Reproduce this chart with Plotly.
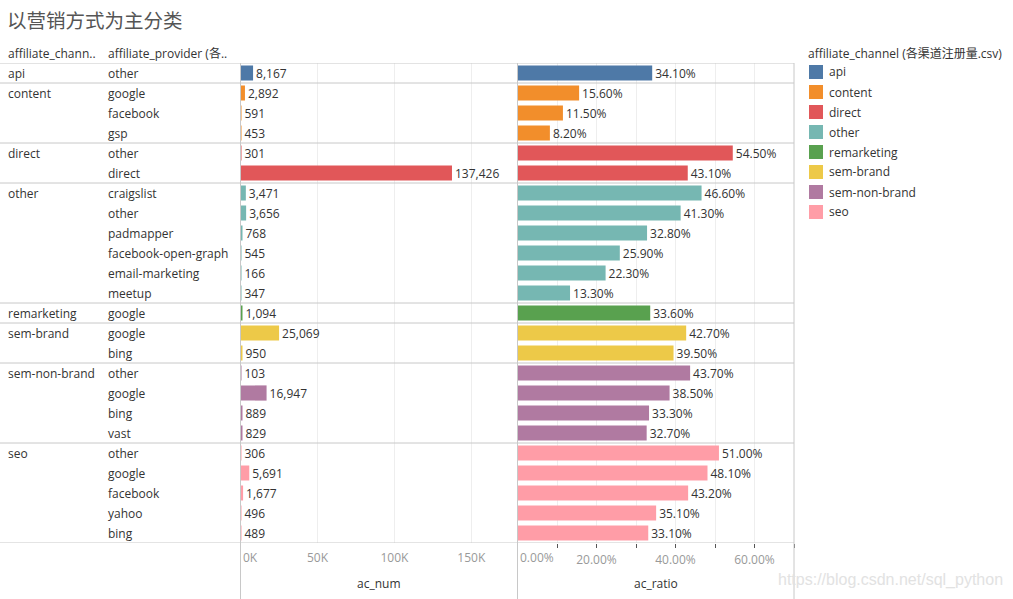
import plotly.graph_objects as go

W, H = 1013, 599

channels = ["api", "content", "direct", "other", "remarketing", "sem-brand", "sem-non-brand", "seo"]
channel_colors = ["#4E79A7", "#F28E2B", "#E15759", "#76B7B2", "#59A14F", "#EDC948", "#B07AA1", "#FF9DA7"]

row_channels = (["api"] + ["content"] * 3 + ["direct"] * 2 + ["other"] * 6 + ["remarketing"]
                + ["sem-brand"] * 2 + ["sem-non-brand"] * 4 + ["seo"] * 5)
providers = ["other",
             "google", "facebook", "gsp",
             "other", "direct",
             "craigslist", "other", "padmapper", "facebook-open-graph", "email-marketing", "meetup",
             "google",
             "google", "bing",
             "other", "google", "bing", "vast",
             "other", "google", "facebook", "yahoo", "bing"]
ac_num = [8167,
          2892, 591, 453,
          301, 137426,
          3471, 3656, 768, 545, 166, 347,
          1094,
          25069, 950,
          103, 16947, 889, 829,
          306, 5691, 1677, 496, 489]
ac_ratio = [0.341,
            0.156, 0.115, 0.082,
            0.545, 0.431,
            0.466, 0.413, 0.328, 0.259, 0.223, 0.133,
            0.336,
            0.427, 0.395,
            0.437, 0.385, 0.333, 0.327,
            0.510, 0.481, 0.432, 0.351, 0.331]

num_ticks = [0, 50000, 100000, 150000]
num_ticktext = ["", "50K", "100K", "150K"]
ratio_ticks = [0, 0.1, 0.2, 0.3, 0.4, 0.5, 0.6, 0.7]
ratio_ticktext = ["", "", "20.00%", "", "40.00%", "", "60.00%", ""]

title_text = "以营销方式为主分类"
legend_title = "affiliate_channel (各渠道注册量.csv)"

FONT = "Open Sans, Noto Sans CJK SC, sans-serif"
TXT = "#333333"
LINE = "#c8c8c8"
GRID = "#eeeeee"


def px(x):
    return x / W


def py(y):
    return 1 - y / H


color_map = dict(zip(channels, channel_colors))
colors = [color_map[c] for c in row_channels]
rows = list(range(len(providers)))
n = len(rows)

fig = go.Figure()
fig.add_trace(go.Bar(
    x=ac_num, y=rows, orientation="h", xaxis="x", yaxis="y",
    marker=dict(color=colors, line=dict(width=0)), width=0.76,
    text=[f"{v:,}" for v in ac_num], textposition="outside", cliponaxis=False,
    constraintext="none", textfont=dict(family=FONT, size=12, color=TXT),
    hoverinfo="skip", showlegend=False))
fig.add_trace(go.Bar(
    x=ac_ratio, y=rows, orientation="h", xaxis="x2", yaxis="y",
    marker=dict(color=colors, line=dict(width=0)), width=0.76,
    text=[f"{v * 100:.2f}%" for v in ac_ratio], textposition="outside", cliponaxis=False,
    constraintext="none", textfont=dict(family=FONT, size=12, color=TXT),
    hoverinfo="skip", showlegend=False))

shapes = []
annotations = []

# group separators and row labels
prev = None
for i, (ch, pr) in enumerate(zip(row_channels, providers)):
    if ch != prev:
        shapes.append(dict(type="line", xref="paper", yref="y", x0=0, x1=px(794),
                           y0=i - 0.5, y1=i - 0.5, line=dict(color=LINE, width=1)))
        annotations.append(dict(xref="paper", yref="y", x=px(6), y=i, text=ch, showarrow=False,
                                xanchor="left", yanchor="middle",
                                font=dict(family=FONT, size=12, color=TXT)))
        prev = ch
    annotations.append(dict(xref="paper", yref="y", x=px(106), y=i, text=pr, showarrow=False,
                            xanchor="left", yanchor="middle",
                            font=dict(family=FONT, size=12, color=TXT)))
shapes.append(dict(type="line", xref="paper", yref="y", x0=0, x1=px(794),
                   y0=n - 0.5, y1=n - 0.5, line=dict(color=LINE, width=1)))

# vertical pane borders
for xv in [240.5, 517.5, 794]:
    shapes.append(dict(type="line", xref="paper", yref="paper", x0=px(xv), x1=px(xv),
                       y0=0, y1=py(63), line=dict(color=LINE, width=1)))

# headers
annotations.append(dict(xref="paper", yref="paper", x=px(6), y=py(54), text="affiliate_chann..",
                        showarrow=False, xanchor="left", yanchor="middle",
                        font=dict(family=FONT, size=12, color=TXT)))
annotations.append(dict(xref="paper", yref="paper", x=px(106), y=py(54), text="affiliate_provider (各..",
                        showarrow=False, xanchor="left", yanchor="middle",
                        font=dict(family=FONT, size=12, color=TXT)))

# title
annotations.append(dict(xref="paper", yref="paper", x=px(5), y=py(20), text=title_text,
                        showarrow=False, xanchor="left", yanchor="middle",
                        font=dict(family="Noto Sans CJK SC", size=19.5, color="#555555")))

# zero tick labels left-aligned like the original
annotations.append(dict(xref="x", yref="paper", x=0, y=py(557), text="0K", showarrow=False,
                        xanchor="left", yanchor="middle", xshift=0,
                        font=dict(family=FONT, size=12, color="#999999")))
annotations.append(dict(xref="x2", yref="paper", x=0, y=py(557), text="0.00%", showarrow=False,
                        xanchor="left", yanchor="middle", xshift=0,
                        font=dict(family=FONT, size=12, color="#999999")))

# axis titles
annotations.append(dict(xref="paper", yref="paper", x=px(379), y=py(583), text="ac_num",
                        showarrow=False, xanchor="center", yanchor="middle",
                        font=dict(family=FONT, size=12, color=TXT)))
annotations.append(dict(xref="paper", yref="paper", x=px(656), y=py(583), text="ac_ratio",
                        showarrow=False, xanchor="center", yanchor="middle",
                        font=dict(family=FONT, size=12, color=TXT)))

# legend
annotations.append(dict(xref="paper", yref="paper", x=px(806), y=py(54), text=legend_title,
                        showarrow=False, xanchor="left", yanchor="middle",
                        font=dict(family=FONT, size=12, color=TXT)))
for k, (ch, col) in enumerate(zip(channels, channel_colors)):
    yc = 72 + 20 * k
    shapes.append(dict(type="rect", xref="paper", yref="paper", x0=px(809), x1=px(823),
                       y0=py(yc - 7), y1=py(yc + 7), fillcolor=col, line=dict(width=0)))
    annotations.append(dict(xref="paper", yref="paper", x=px(827), y=py(yc), text=ch,
                            showarrow=False, xanchor="left", yanchor="middle",
                            font=dict(family=FONT, size=12, color=TXT)))

# watermark
annotations.append(dict(xref="paper", yref="paper", x=px(1005), y=py(580),
                        text="https://blog.csdn.net/sql_python", showarrow=False,
                        xanchor="right", yanchor="middle",
                        font=dict(family="Liberation Sans, Arial", size=16, color="#e2e2e2")))

fig.update_layout(
    width=W, height=H, margin=dict(l=0, r=0, t=0, b=0),
    paper_bgcolor="white", plot_bgcolor="white",
    font=dict(family=FONT, size=12, color=TXT),
    showlegend=False, bargap=0.24,
    xaxis=dict(domain=[px(240.5), px(517.5)], range=[0, 180000], anchor="y",
               tickvals=num_ticks, ticktext=num_ticktext, showgrid=True, gridcolor=GRID,
               zeroline=False, showline=False, ticks="", ticklabelstandoff=6,
               tickfont=dict(family=FONT, size=12, color="#999999"), fixedrange=True),
    xaxis2=dict(domain=[px(517.5), px(794)], range=[0, 0.7], anchor="y",
                tickvals=ratio_ticks, ticktext=ratio_ticktext, showgrid=True, gridcolor=GRID,
                zeroline=False, showline=False, ticks="outside", ticklen=4, tickcolor="#555555",
                ticklabelstandoff=2,
                tickfont=dict(family=FONT, size=12, color="#999999"), fixedrange=True),
    yaxis=dict(domain=[py(543), py(63)], range=[n - 0.5, -0.5], showticklabels=False,
               showgrid=False, zeroline=False, showline=False, ticks="", fixedrange=True),
    shapes=shapes, annotations=annotations,
)

fig.write_html("out.html", config={"displayModeBar": False},
               post_script="document.body.style.margin='0';document.body.style.overflow='hidden';")
